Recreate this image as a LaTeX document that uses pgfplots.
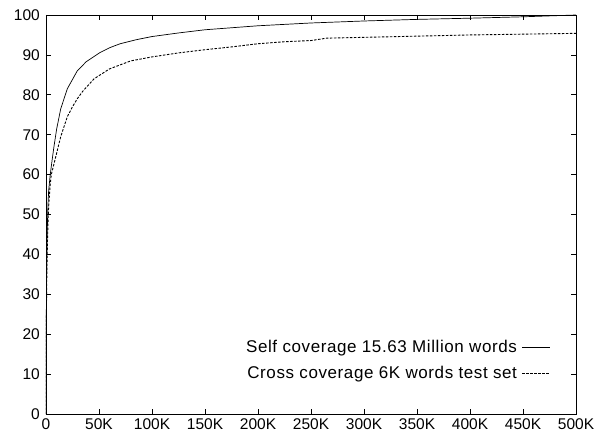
\documentclass[border=0pt]{standalone}
\usepackage{pgfplots}
\pgfplotsset{compat=1.18}
\usepackage{fontspec}
\setmainfont{Liberation Sans}
\newcommand{\lf}{\fontsize{15.5}{18}\selectfont}
\newcommand{\llf}{\fontsize{17}{19}\selectfont\addfontfeature{LetterSpace=3.5}}
\begin{document}
\begin{tikzpicture}[x=1pt,y=1pt]
\path[use as bounding box] (-46pt,-23pt) rectangle (565pt,414pt);
\begin{axis}[
  at={(0pt,0pt)}, anchor=south west,
  scale only axis, width=530pt, height=399pt,
  xmin=0, xmax=500000, ymin=0, ymax=100,
  xtick={0,50000,100000,150000,200000,250000,300000,350000,400000,450000,500000},
  xticklabels={0,50K,100K,150K,200K,250K,300K,350K,400K,450K,500K},
  ytick={0,10,...,100},
  yticklabels={0,10,20,30,40,50,60,70,80,90,100},
  scaled x ticks=false,
  tick align=inside, major tick length=5pt,
  tick style={black, line width=0.6pt},
  axis line style={black, line width=0.8pt},
  ticklabel style={font=\lf},
  xticklabel style={inner sep=1pt, yshift=-3pt},
  yticklabel style={inner sep=1pt, xshift=-5pt},
  legend style={draw=none, fill=none, font=\llf, at={(axis cs:476500,13.5)}, anchor=east, row sep=8.5pt, inner sep=0pt},
  legend cell align=right,
  legend plot pos=right,
  legend image code/.code={\draw[#1] (0pt,0pt) -- (28pt,0pt);},
  /tikz/every odd column/.append style={column sep=3pt},
]
\addplot[black, line width=0.7pt] coordinates {
(0,0) (150,15) (300,25) (500,33) (800,40) (1200,46) (1800,52) (2500,56) (4000,60) (5700,63.5) (7500,67) (10100,71.5) (13900,76.5) (20100,81.5) (29500,86) (38000,88.3) (45300,89.6) (51000,90.6) (60000,91.8) (70000,92.8) (85000,93.8) (100000,94.6) (125000,95.5) (150000,96.3) (175000,96.8) (200000,97.3) (250000,98.0) (300000,98.5) (350000,98.9) (400000,99.2) (450000,99.55) (500000,100)
};
\addlegendentry{Self coverage 15.63 Million words}
\addplot[black, line width=0.9pt, dash pattern=on 2.5pt off 1.5pt] coordinates {
(0,0) (150,12) (300,20) (500,28) (800,35) (1200,41) (1800,47) (2500,52) (3800,57) (5000,60) (6900,62) (9200,64.5) (13900,69.5) (20100,74.5) (25000,77) (29500,79) (35000,81) (45300,84) (60000,86.5) (80000,88.5) (100000,89.5) (125000,90.5) (150000,91.3) (175000,92) (200000,92.8) (225000,93.3) (250000,93.6) (265000,94.2) (300000,94.4) (350000,94.7) (400000,95.0) (450000,95.2) (500000,95.4)
};
\addlegendentry{Cross coverage 6K words test set}
\end{axis}
\end{tikzpicture}
\end{document}
